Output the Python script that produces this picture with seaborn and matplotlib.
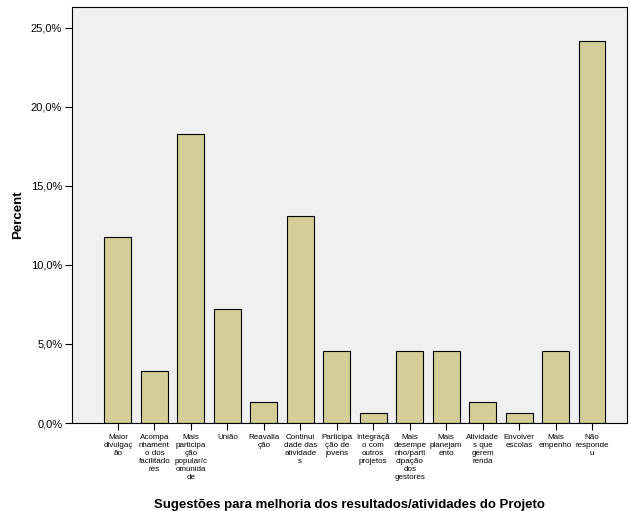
import pandas as pd
import matplotlib.pyplot as plt
import seaborn as sns
from matplotlib.ticker import FuncFormatter

categories = [
    "Maior\ndivulgaç\não",
    "Acompa\nnhament\no dos\nfacilitado\nres",
    "Mais\nparticipa\nção\npopular/c\nomunida\nde",
    "União",
    "Reavalia\nção",
    "Continui\ndade das\natividade\ns",
    "Participa\nção de\njovens",
    "Integraçã\no com\noutros\nprojetos",
    "Mais\ndesempe\nnho/parti\ncipação\ndos\ngestores",
    "Mais\nplanejam\nento",
    "Atividade\ns que\ngerem\nrenda",
    "Envolver\nescolas",
    "Mais\nempenho",
    "Não\nresponde\nu",
]
percent = [11.76, 3.27, 18.30, 7.19, 1.31, 13.07, 4.58, 0.65, 4.58, 4.58, 1.31, 0.65, 4.58, 24.18]

df = pd.DataFrame({"categoria": categories, "percent": percent})

plt.rcParams["font.family"] = ["Liberation Sans", "DejaVu Sans"]

fig = plt.figure(figsize=(6.31, 5.11), dpi=100)
ax = fig.add_axes([72 / 631, 88 / 511, 555 / 631, 416 / 511])
ax.set_facecolor("#F0F0F0")

sns.barplot(data=df, x="categoria", y="percent", color="#D3CE98",
            edgecolor="black", linewidth=0.8, width=0.74, saturation=1, ax=ax)

ax.set_xlim(-1.26, 13.96)
ax.set_ylim(0, 26.3)
ax.set_yticks([0, 5, 10, 15, 20, 25])
ax.yaxis.set_major_formatter(FuncFormatter(lambda v, p: f"{v:.1f}%".replace(".", ",")))
ax.tick_params(axis="y", labelsize=8, length=5, width=0.8, pad=2)
ax.tick_params(axis="x", labelsize=5.8, length=5, width=0.8, pad=3)
for lbl in ax.get_xticklabels():
    lbl.set_linespacing(1.2)
for s in ax.spines.values():
    s.set_linewidth(0.8)
    s.set_color("black")

ax.set_ylabel("Percent", fontsize=9.5, fontweight="bold", labelpad=5)
ax.set_xlabel("Sugestões para melhoria dos resultados/atividades do Projeto",
              fontsize=9.5, fontweight="bold", labelpad=13)

fig.savefig("out.png", dpi=100)
